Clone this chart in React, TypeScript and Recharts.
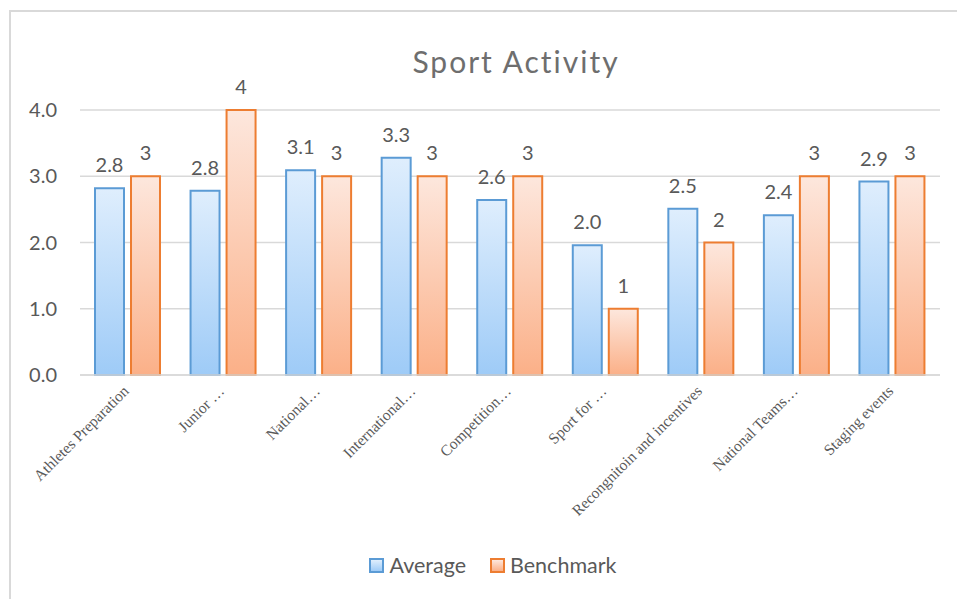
import React from 'react';
import { BarChart, Bar, XAxis, YAxis, CartesianGrid, Legend, LabelList } from 'recharts';

const categories = [
  'Athletes Preparation',
  'Junior …',
  'National…',
  'International…',
  'Competition…',
  'Sport for …',
  'Recongnitoin and incentives',
  'National Teams…',
  'Staging events',
];
const averageValues = [2.82, 2.78, 3.09, 3.28, 2.64, 1.96, 2.51, 2.41, 2.92];
const benchmarkValues = [3, 4, 3, 3, 3, 1, 2, 3, 3];
const yTicks = [0, 1, 2, 3, 4];

const data = categories.map((name, i) => ({
  name,
  average: averageValues[i],
  benchmark: benchmarkValues[i],
}));

const sans = 'Lato, "Open Sans", sans-serif';
const gray = '#595959';

const CategoryTick = ({ x, y, payload }: any) => {
  const ax = x + 2;
  const ay = y + 17;
  return (
    <text
      x={ax}
      y={ay}
      transform={`rotate(-45, ${ax}, ${ay})`}
      textAnchor="end"
      fontFamily='"Liberation Serif", serif'
      fontSize={15.5}
      fill={gray}
    >
      {payload.value}
    </text>
  );
};

const LegendBox = () => (
  <div
    style={{
      display: 'flex',
      justifyContent: 'center',
      alignItems: 'center',
      paddingLeft: 46,
      height: 40,
      fontFamily: sans,
      fontSize: 21.5,
      color: gray,
    }}
  >
    {[
      { label: 'Average', stroke: '#5b9bd5', from: '#dfeefd', to: '#9ecbf7' },
      { label: 'Benchmark', stroke: '#ed7d31', from: '#fde7dd', to: '#fbb088' },
    ].map((it) => (
      <span key={it.label} style={{ display: 'flex', alignItems: 'center', margin: '0 12px' }}>
        <span
          style={{
            width: 11,
            height: 11,
            border: `2px solid ${it.stroke}`,
            background: `linear-gradient(${it.from}, ${it.to})`,
            marginRight: 5,
          }}
        />
        {it.label}
      </span>
    ))}
  </div>
);

export default function App() {
  return (
    <div
      style={{
        position: 'fixed',
        left: 0,
        top: 0,
        width: 957,
        height: 599,
        overflow: 'hidden',
        background: '#fff',
      }}
    >
      <div
        style={{
          position: 'absolute',
          left: 9,
          top: 10,
          width: 980,
          height: 620,
          border: '2px solid #d9d9d9',
        }}
      />
      <div
        style={{
          position: 'absolute',
          left: 0,
          width: 1032,
          top: 43,
          textAlign: 'center',
          fontFamily: sans,
          fontSize: 30,
          letterSpacing: 2,
          color: '#6e6e6e',
        }}
      >
        Sport Activity
      </div>
      <div style={{ position: 'absolute', left: 0, top: 0 }}>
        <BarChart
          width={957}
          height={599}
          data={data}
          margin={{ top: 110, right: 17, left: 0, bottom: 14 }}
          barGap={7}
          barSize={29}
        >
          <defs>
            <linearGradient id="gAvg" x1="0" y1="0" x2="0" y2="1">
              <stop offset="0%" stopColor="#dfeefd" />
              <stop offset="100%" stopColor="#9ecbf7" />
            </linearGradient>
            <linearGradient id="gBen" x1="0" y1="0" x2="0" y2="1">
              <stop offset="0%" stopColor="#fde7dd" />
              <stop offset="100%" stopColor="#fbb088" />
            </linearGradient>
          </defs>
          <CartesianGrid vertical={false} stroke="#d9d9d9" strokeWidth={1.5} />
          <XAxis
            dataKey="name"
            interval={0}
            height={170}
            tickSize={0}
            tickMargin={0}
            tickLine={false}
            axisLine={{ stroke: '#d9d9d9', strokeWidth: 1.5 }}
            tick={<CategoryTick />}
          />
          <YAxis
            width={80}
            domain={[0, 4]}
            ticks={yTicks}
            tickFormatter={(v: number) => v.toFixed(1)}
            axisLine={false}
            tickLine={false}
            tickSize={0}
            tickMargin={23}
            tick={{ fontFamily: sans, fontSize: 20, fill: gray }}
          />
          <Legend verticalAlign="bottom" height={40} content={<LegendBox />} />
          <Bar dataKey="average" name="Average" fill="url(#gAvg)" stroke="#5b9bd5" strokeWidth={2} isAnimationActive={false}>
            <LabelList
              dataKey="average"
              position="top"
              offset={16}
              formatter={(v: any) => Number(v).toFixed(1)}
              style={{ fontFamily: sans, fontSize: 20, fill: gray }}
            />
          </Bar>
          <Bar dataKey="benchmark" name="Benchmark" fill="url(#gBen)" stroke="#ed7d31" strokeWidth={2} isAnimationActive={false}>
            <LabelList
              dataKey="benchmark"
              position="top"
              offset={16}
              style={{ fontFamily: sans, fontSize: 20, fill: gray }}
            />
          </Bar>
        </BarChart>
      </div>
    </div>
  );
}
